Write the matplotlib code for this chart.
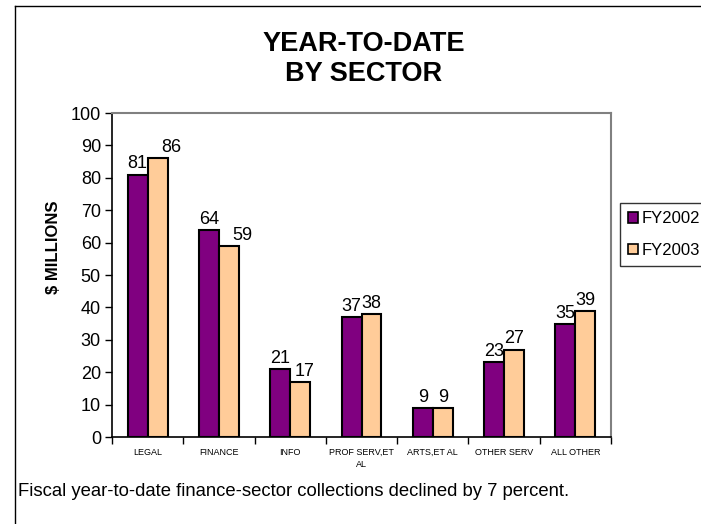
import numpy as np
import matplotlib
matplotlib.use("Agg")
import matplotlib.pyplot as plt
from matplotlib.lines import Line2D
from matplotlib.patches import Patch

plt.rcParams['font.family'] = ['Liberation Sans', 'DejaVu Sans']

categories = ["LEGAL", "FINANCE", "INFO", "PROF SERV,ET\nAL", "ARTS,ET AL", "OTHER SERV", "ALL OTHER"]
fy2002 = [81, 64, 21, 37, 9, 23, 35]
fy2003 = [86, 59, 17, 38, 9, 27, 39]
series_names = ["FY2002", "FY2003"]
y_ticks = list(range(0, 101, 10))
note = "Fiscal year-to-date finance-sector collections declined by 7 percent."

W, H = 701, 524
fig = plt.figure(figsize=(W / 100, H / 100), dpi=100)
ax = fig.add_axes([112 / W, 1 - 437 / H, (611 - 112) / W, (437 - 113) / H])

x = np.arange(len(categories))
bw = 0.28
purple, peach = "#800080", "#FFCC99"
b1 = ax.bar(x - bw / 2, fy2002, bw, color=purple, edgecolor="black", linewidth=1.5)
b2 = ax.bar(x + bw / 2, fy2003, bw, color=peach, edgecolor="black", linewidth=1.5)

# value labels (a couple nudged right like the original)
nudge2 = {0: 10, 1: 10, 2: 3.5}
for i, b in enumerate(b1):
    ax.annotate(str(fy2002[i]), (b.get_x() + b.get_width() / 2, b.get_height()),
                xytext=(0, 1.5), textcoords="offset points", ha="center", va="bottom", fontsize=13)
for i, b in enumerate(b2):
    ax.annotate(str(fy2003[i]), (b.get_x() + b.get_width() / 2, b.get_height()),
                xytext=(nudge2.get(i, 0), 1.5), textcoords="offset points", ha="center", va="bottom", fontsize=13)

ax.set_xlim(-0.5, len(categories) - 0.5)
ax.set_ylim(0, 100)
ax.set_yticks(y_ticks)
ax.tick_params(axis="y", direction="out", length=5, width=1, labelsize=13, pad=3)
ax.set_xticks(x)
ax.set_xticklabels(categories, fontsize=6.5, linespacing=1.35)
ax.tick_params(axis="x", which="major", length=0, pad=8)
ax.set_xticks(np.arange(len(categories) + 1) - 0.5, minor=True)
ax.tick_params(axis="x", which="minor", direction="out", length=5, width=1)

for s in ["top", "right"]:
    ax.spines[s].set_color("#808080")
    ax.spines[s].set_linewidth(1.5)
for s in ["left", "bottom"]:
    ax.spines[s].set_color("black")
    ax.spines[s].set_linewidth(1.2)

fig.text(53 / W, 1 - 247 / H, "$ MILLIONS", rotation=90, ha="center", va="center",
         fontsize=12, fontweight="bold")

fig.text(364 / W, 1 - 59 / H, "YEAR-TO-DATE\nBY SECTOR", ha="center", va="center",
         fontsize=19.5, fontweight="bold", linespacing=1.2)

fig.text(18 / W, 1 - 491 / H, note, ha="left", va="center", fontsize=13.3)

handles = [Patch(facecolor=purple, edgecolor="black", linewidth=1.2),
           Patch(facecolor=peach, edgecolor="black", linewidth=1.2)]
leg = fig.legend(handles, series_names, loc="upper left", bbox_to_anchor=(620 / W, 1 - 203 / H),
                 fontsize=12, frameon=True, fancybox=False, borderpad=0.5, labelspacing=1.0,
                 handlelength=0.6, handleheight=0.6, handletextpad=0.2, borderaxespad=0)
leg.get_frame().set_edgecolor("black")
leg.get_frame().set_linewidth(1)

# outer chart frame (left and top edges visible)
fig.add_artist(Line2D([15 / W, 15 / W], [0, 1 - 6 / H], color="black", linewidth=1, transform=fig.transFigure))
fig.add_artist(Line2D([15 / W, 1], [1 - 6 / H, 1 - 6 / H], color="black", linewidth=1, transform=fig.transFigure))

fig.savefig("out.png", dpi=100)
